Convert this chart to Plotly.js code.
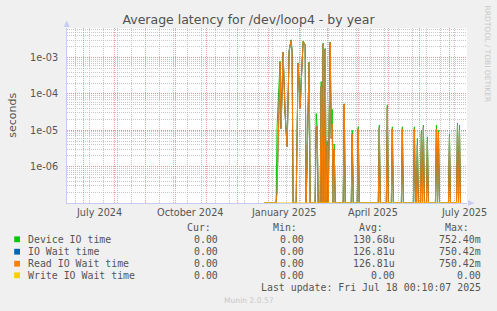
<!DOCTYPE html>
<html><head><meta charset="utf-8">
<script src="https://cdn.plot.ly/plotly-3.0.1.min.js"></script>
<style>html,body{margin:0;padding:0;background:#f0f0f0;}</style>
</head><body><div id="chart" style="width:497px;height:311px;"></div>
<script>
// ---- data (daily averages, seconds) ----
const dates = [
'2024-12-28','2025-01-09','2025-01-10','2025-01-13','2025-01-14','2025-01-16','2025-01-18','2025-01-20','2025-01-22','2025-01-24',
'2025-01-25','2025-01-26','2025-01-29','2025-01-31','2025-02-02','2025-02-05','2025-02-07','2025-02-08','2025-02-11','2025-02-12',
'2025-02-17','2025-02-18','2025-02-19','2025-02-20','2025-02-22','2025-02-23','2025-02-24','2025-02-25','2025-02-26','2025-02-27',
'2025-02-28','2025-03-01','2025-03-02','2025-03-04','2025-03-05','2025-03-06','2025-03-07','2025-03-08','2025-03-09',
'2025-03-17','2025-03-18','2025-03-19','2025-03-25','2025-03-26','2025-03-27','2025-03-31','2025-04-01','2025-04-02',
'2025-04-21','2025-04-22','2025-04-23','2025-04-29','2025-04-30','2025-05-01','2025-05-04','2025-05-05','2025-05-06',
'2025-05-14','2025-05-15','2025-05-16','2025-05-26','2025-05-27','2025-05-28','2025-05-29','2025-05-30','2025-05-31',
'2025-06-02','2025-06-03','2025-06-04','2025-06-05','2025-06-06','2025-06-08','2025-06-09','2025-06-10',
'2025-06-17','2025-06-18','2025-06-19','2025-06-20','2025-06-21','2025-06-30','2025-07-01','2025-07-02',
'2025-07-08','2025-07-09','2025-07-10','2025-07-11','2025-07-12'
];
const deviceIOTime = [
0,0,1.3e-5,8e-4,1.2e-5,1.4e-3,3e-5,3.7e-6,1.6e-3,3.1e-3,
1.5e-3,0,0,7.2e-4,7.1e-5,2.8e-3,2.3e-3,0,7.5e-4,0,
0,2.9e-5,1.3e-5,0,0,2.2e-4,0,2.5e-3,0,1.8e-3,
0,5e-6,0,2.7e-3,8e-6,3.8e-5,0,4.2e-6,0,
0,5.4e-5,0,0,1e-5,0,0,1.25e-5,0,
0,1.4e-5,0,0,5e-5,0,0,1.25e-5,0,
0,1.25e-5,0,0,1.25e-5,0,0,6e-6,0,
0,1e-5,0,1.4e-5,0,0,6.6e-6,0,
0,1.4e-5,0,1e-5,0,0,7.9e-6,0,
0,1.6e-5,0,1.4e-5,0
];
const readIOWaitTime = [
0,0,2.2e-7,7.5e-4,1.1e-5,1.4e-3,2.8e-5,3.5e-6,1.5e-3,3.0e-3,
1.4e-3,0,0,7.0e-4,4e-5,2.8e-3,2.2e-3,0,7.3e-4,0,
0,1.2e-5,1.3e-5,0,0,1.6e-4,0,2.4e-3,0,1.7e-3,
0,4e-6,0,2.6e-3,6e-6,1.5e-5,0,3e-6,0,
0,5.2e-5,0,0,8e-6,0,0,1.1e-5,0,
0,1.2e-5,0,0,4.2e-5,0,0,1.1e-5,0,
0,1.1e-5,0,0,1.1e-5,0,0,4e-6,0,
0,8e-6,0,1.2e-5,0,0,5e-6,0,
0,1.1e-5,0,9e-6,0,0,6.5e-6,0,
0,1.4e-5,0,1e-5,0
];
const ioWaitTime = readIOWaitTime;            // identical to read wait (hidden beneath it)
const writeIOWaitTime = dates.map(() => 0);   // all zero in the picture

const seriesNames  = ['Device IO time','IO Wait time','Read IO Wait time','Write IO Wait time'];
const seriesColors = ['#00cc00','#0066b3','#ff8000','#ffcc00'];
const curValues = ['0.00','0.00','0.00','0.00'];
const minValues = ['0.00','0.00','0.00','0.00'];
const avgValues = ['130.68u','126.81u','126.81u','0.00'];
const maxValues = ['752.40m','750.42m','750.42m','0.00'];

const yTickVals  = [1e-6,1e-5,1e-4,1e-3];
const yTickText  = ['1e-06','1e-05','1e-04','1e-03'];
const xLabelDates = ['2024-07-16','2024-10-16','2025-01-16','2025-04-16','2025-07-16'];
const xLabelTexts = ['July 2024','October 2024','January 2025','April 2025','July 2025'];

const titleText = 'Average latency for /dev/loop4 - by year';
const lastUpdate = 'Last update: Fri Jul 18 00:10:07 2025';

// ---- layout helpers (pixel -> paper) ----
const L = 67, T = 28, W = 400, H = 175;
const px = p => (p - L) / W;
const py = p => (T + H - p) / H;
const FLOOR = 1e-7; // zero drawn on the bottom edge like rrdtool

const allSeries = [deviceIOTime, ioWaitTime, readIOWaitTime, writeIOWaitTime];
const traces = allSeries.map((vals, i) => ({
  x: dates, y: vals.map(v => v > 0 ? v : FLOOR),
  type: 'scatter', mode: 'lines', name: seriesNames[i],
  line: {color: seriesColors[i], width: 1}, hoverinfo: 'skip'
}));

const grayText = '#555';
const annotations = [];
xLabelDates.forEach((d, i) => annotations.push({
  x: d, xref: 'x', y: py(212.5), yref: 'paper', text: xLabelTexts[i], showarrow: false,
  xanchor: 'center', yanchor: 'middle', font: {family: 'DejaVu Sans', size: 9.7, color: grayText}
}));
const mono = {family: 'DejaVu Sans Mono', size: 9.9, color: grayText};
const rowY = [239.3, 251.7, 263.7, 275.3];
const hdrs = [['Cur:', 212.7], ['Min:', 299], ['Avg:', 384.5], ['Max:', 470.5]];
hdrs.forEach(h => annotations.push({x: px(h[1]), y: py(227.3), xref: 'paper', yref: 'paper', text: h[0],
  showarrow: false, xanchor: 'right', yanchor: 'middle', font: mono}));
const shapes = [];
seriesNames.forEach((n, i) => {
  annotations.push({x: px(26), y: py(rowY[i]), xref: 'paper', yref: 'paper', text: n, showarrow: false,
    xanchor: 'left', yanchor: 'middle', font: mono});
  [[curValues, 219.5], [minValues, 305.5], [avgValues, 397], [maxValues, 483]].forEach(c => {
    annotations.push({x: px(c[1]), y: py(rowY[i]), xref: 'paper', yref: 'paper', text: c[0][i],
      showarrow: false, xanchor: 'right', yanchor: 'middle', font: mono});
  });
  shapes.push({type: 'rect', xref: 'paper', yref: 'paper', x0: px(14.2), x1: px(20), y0: py(rowY[i] + 2.9), y1: py(rowY[i] - 2.9),
    fillcolor: seriesColors[i], line: {width: 0}});
});
annotations.push({x: px(483), y: py(287.7), xref: 'paper', yref: 'paper', text: lastUpdate, showarrow: false,
  xanchor: 'right', yanchor: 'middle', font: mono});
annotations.push({x: px(248.5), y: py(300), xref: 'paper', yref: 'paper', text: 'Munin 2.0.57', showarrow: false,
  xanchor: 'center', yanchor: 'middle', font: {family: 'DejaVu Sans', size: 7.6, color: '#c8c8c8'}});
annotations.push({x: px(487), y: py(53.5), xref: 'paper', yref: 'paper', text: 'RRDTOOL / TOBI OETIKER', showarrow: false,
  textangle: 90, xanchor: 'center', yanchor: 'middle', font: {family: 'DejaVu Sans', size: 7.5, color: '#c8c8c8'}});
annotations.push({x: px(11.7), y: py(115), xref: 'paper', yref: 'paper', text: 'seconds', showarrow: false,
  textangle: -90, xanchor: 'center', yanchor: 'middle', font: {family: 'DejaVu Sans', size: 11, color: grayText}});

const axisCol = '#c8ccf4';
// axis arrows
shapes.push({type: 'path', xref: 'paper', yref: 'paper', layer: 'above',
  path: `M ${px(63.7)} ${py(27)} L ${px(66.7)} ${py(20.5)} L ${px(69.7)} ${py(27)} Z`, fillcolor: axisCol, line: {width: 0}});
shapes.push({type: 'path', xref: 'paper', yref: 'paper', layer: 'above',
  path: `M ${px(468)} ${py(200)} L ${px(474.5)} ${py(203)} L ${px(468)} ${py(206)} Z`, fillcolor: axisCol, line: {width: 0}});

const majorGrid = 'rgba(228,130,130,0.75)';
const minorGrid = 'rgba(185,185,185,0.8)';
const layout = {
  width: 497, height: 311,
  margin: {l: L, r: 497 - L - W, t: T, b: 311 - T - H, pad: 0},
  paper_bgcolor: '#f0f0f0', plot_bgcolor: '#ffffff',
  showlegend: false,
  title: {text: titleText, x: 0.5, xanchor: 'center', y: 1 - 19.5 / 311, yanchor: 'middle', yref: 'container',
    font: {family: 'DejaVu Sans', size: 12.5, color: '#505050'}},
  xaxis: {type: 'date', range: ['2024-06-14 09:00', '2025-07-18 12:00'],
    tick0: '2024-07-01', dtick: 'M1', showticklabels: false, ticks: '',
    showgrid: true, gridcolor: majorGrid, griddash: '1px,1px', gridwidth: 1,
    minor: {tick0: '2024-06-23', dtick: 14 * 86400000, showgrid: true, gridcolor: minorGrid, griddash: '1px,1px', gridwidth: 1},
    showline: true, linecolor: axisCol, linewidth: 1, zeroline: false, layer: 'below traces', fixedrange: true},
  yaxis: {type: 'log', range: [-7, -2.184], tickmode: 'array', tickvals: yTickVals, ticktext: yTickText,
    ticks: '', ticklabelstandoff: 6,
    tickfont: {family: 'DejaVu Sans', size: 9.7, color: grayText},
    showgrid: true, gridcolor: majorGrid, griddash: '1px,1px', gridwidth: 1,
    minor: {dtick: 'D1', showgrid: true, gridcolor: minorGrid, griddash: '1px,1px', gridwidth: 1},
    showline: true, linecolor: axisCol, linewidth: 1, zeroline: false, layer: 'below traces', fixedrange: true},
  annotations: annotations, shapes: shapes
};
Plotly.newPlot('chart', traces, layout, {staticPlot: true, displayModeBar: false});
</script></body></html>
